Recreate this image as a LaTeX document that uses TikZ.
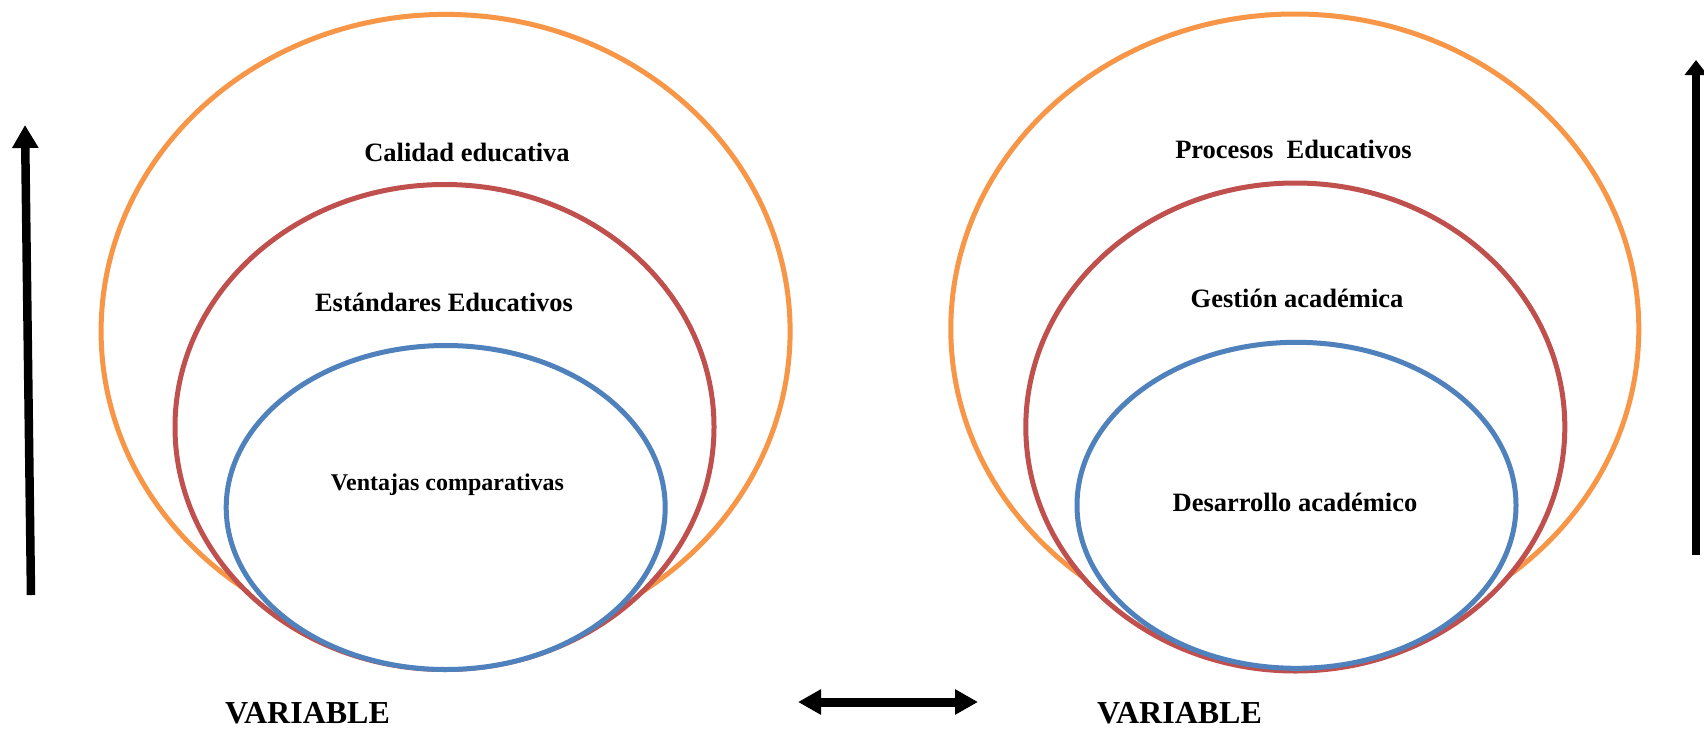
\documentclass[tikz,border=0pt]{standalone}
\usepackage{fontspec}
\setmainfont{Liberation Serif}
\usetikzlibrary{shapes.geometric, arrows.meta, positioning}

\definecolor{ringorange}{HTML}{F79646}
\definecolor{ringred}{HTML}{C0504D}
\definecolor{ringblue}{HTML}{4F81BD}

\tikzset{
  ring/.style={draw, ellipse, fill=white, line width=5pt, inner sep=0pt, outer sep=0pt},
  lbl/.style={font=\fontsize{26.5}{30}\selectfont\bfseries, inner sep=0pt},
  varlbl/.style={font=\fontsize{32}{36}\selectfont\bfseries, inner sep=0pt},
}

\begin{document}
\begin{tikzpicture}[x=1pt, y=-1pt]

    \useasboundingbox (0,0) rectangle (1704,731);

    % Left rings
    \node[ring, draw=ringorange, minimum width=689pt, minimum height=634pt] (calidad) at (445.6,331.4) {};
    \node[ring, draw=ringred, minimum width=539pt, minimum height=485pt] (estandares) at (444.5,427) {};
    \node[ring, draw=ringblue, minimum width=439pt, minimum height=324pt] (ventajas) at (445.7,507.5) {};

    % Right rings
    \node[ring, draw=ringorange, minimum width=688pt, minimum height=630pt] (procesos) at (1294.8,329) {};
    \node[ring, draw=ringred, minimum width=539pt, minimum height=488pt] (gestion) at (1295.3,427) {};
    \node[ring, draw=ringblue, minimum width=439pt, minimum height=326pt] (desarrollo) at (1296.5,505.3) {};

    % Labels
    \node[lbl] (calidadtxt) at (467,152) {Calidad educativa};
    \node[lbl] (estandarestxt) at (444,302) {Estándares Educativos};
    \node[lbl, font=\fontsize{24}{28}\selectfont\bfseries] (ventajastxt) at (447.5,485) {Ventajas comparativas};

    \node[lbl] (procesostxt) at (1293.5,149) {Procesos\ \ Educativos};
    \node[lbl] (gestiontxt) at (1297,298) {Gestión académica};
    \node[lbl] (desarrollotxt) at (1295,502) {Desarrollo académico};

    \node[varlbl] (varleft) at (307.5,713) {VARIABLE};
    \node[varlbl] (varright) at (1179.5,713) {VARIABLE};

    % Arrows
    \coordinate (lbottom) at (31,595);
    \coordinate (ltop) at (25,125);
    \coordinate (rbottom) at (1696,555);
    \coordinate (rtop) at (1696,60);
    \coordinate (mleft) at (798,702);
    \coordinate (mright) at (978,702);

    \draw[line width=8.5pt, -{Triangle[length=23pt, width=25pt]}] (lbottom) -- (ltop);
    \draw[line width=8.5pt, -{Triangle[length=15pt, width=22pt]}] (rbottom) -- (rtop);
    \draw[line width=9pt, {Triangle[length=23pt, width=24pt]}-{Triangle[length=23pt, width=24pt]}] (mleft) -- (mright);

\end{tikzpicture}
\end{document}
